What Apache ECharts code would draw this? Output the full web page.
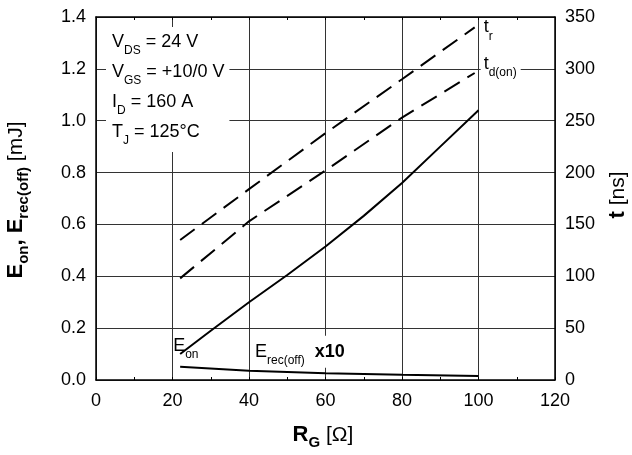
<!DOCTYPE html>
<html>
<head>
<meta charset="utf-8">
<script src="https://cdn.jsdelivr.net/npm/echarts@6/dist/echarts.min.js"></script>
<style>
  html, body { margin: 0; padding: 0; background: #fff; }
  #c { width: 632px; height: 455px; }
</style>
</head>
<body>
<div id="c"></div>
<script>
const FONT = '"Liberation Sans", Arial, Helvetica, sans-serif';

// Gate resistance R_G [Ω] and switching data
const rgEon   = [22, 30, 40, 50, 60, 70, 80, 90, 100];
const eOn     = [0.10, 0.19, 0.30, 0.405, 0.515, 0.633, 0.76, 0.90, 1.04];  // mJ
const rgErec  = [22, 40, 60, 80, 100];
const eRecOff = [0.051, 0.036, 0.026, 0.020, 0.015];                      // mJ (x10)
const rgTime  = [22, 40, 60, 80, 99];
const tRise   = [135, 184, 238, 290, 340];                                 // ns
const tdOn    = [98, 153, 202, 253, 296];                                  // ns

// Axis ranges
const xRange = { min: 0, max: 120, step: 20 };
const eRange = { min: 0, max: 1.4, step: 0.2 };
const tRange = { min: 0, max: 350, step: 50 };

const rich = {
  m:   { fontSize: 18, fontFamily: FONT, color: '#000', lineHeight: 30 },
  s:   { fontSize: 12, fontFamily: FONT, color: '#000', lineHeight: 14, verticalAlign: 'bottom' },
  b:   { fontSize: 18, fontFamily: FONT, color: '#000', fontWeight: 'bold', lineHeight: 30, padding: [0, 0, 0, 10] },
  tb:  { fontSize: 22, fontFamily: FONT, color: '#000', fontWeight: 'bold', lineHeight: 30 },
  tsb: { fontSize: 15, fontFamily: FONT, color: '#000', fontWeight: 'bold', lineHeight: 16, verticalAlign: 'bottom' },
  tr:  { fontSize: 21, fontFamily: FONT, color: '#000', lineHeight: 30 }
};

const pairs = (xs, ys) => xs.map((x, i) => [x, ys[i]]);
function withLabel(xs, ys, idx, label) {
  const d = pairs(xs, ys);
  d[idx] = { value: d[idx], label: Object.assign({ show: true, rich: rich }, label) };
  return d;
}

const lineBase = {
  type: 'line',
  showSymbol: true,
  symbol: 'circle',
  symbolSize: 0,
  silent: true,
  animation: false,
  label: { show: false },
  z: 5
};

const chart = echarts.init(document.getElementById('c'), null, { renderer: 'canvas' });

chart.setOption({
  animation: false,
  backgroundColor: '#fff',
  grid: { left: 96, right: 77, top: 17, bottom: 75, outerBoundsMode: 'none', containLabel: false },
  xAxis: [
    {
      type: 'value', position: 'bottom',
      min: xRange.min, max: xRange.max, interval: xRange.step,
      axisLine: { show: true, onZero: false, lineStyle: { color: '#000', width: 1.5 } },
      axisTick: { show: true, inside: true, length: 3, lineStyle: { color: '#000' } },
      minorTick: { show: true, splitNumber: 2, length: 3, lineStyle: { color: '#000' } },
      axisLabel: { color: '#000', fontSize: 18, fontFamily: FONT, margin: 12 },
      splitLine: { show: true, lineStyle: { color: '#333', width: 1 } }
    },
    {
      type: 'value', position: 'top',
      min: xRange.min, max: xRange.max, interval: xRange.step,
      axisLine: { show: true, onZero: false, lineStyle: { color: '#000', width: 1.5 } },
      axisTick: { show: true, inside: true, length: 3, lineStyle: { color: '#000' } },
      minorTick: { show: true, splitNumber: 2, length: 3, lineStyle: { color: '#000' } },
      axisLabel: { show: false },
      splitLine: { show: false }
    }
  ],
  yAxis: [
    {
      type: 'value', position: 'left',
      min: eRange.min, max: eRange.max, interval: eRange.step,
      axisLine: { show: true, onZero: false, lineStyle: { color: '#000', width: 1.5 } },
      axisTick: { show: false },
      axisLabel: { color: '#000', fontSize: 18, fontFamily: FONT, margin: 10,
                   formatter: v => v.toFixed(1) },
      splitLine: { show: true, lineStyle: { color: '#333', width: 1 } }
    },
    {
      type: 'value', position: 'right',
      min: tRange.min, max: tRange.max, interval: tRange.step,
      axisLine: { show: true, onZero: false, lineStyle: { color: '#000', width: 1.5 } },
      axisTick: { show: false },
      axisLabel: { color: '#000', fontSize: 18, fontFamily: FONT, margin: 10 },
      splitLine: { show: false }
    }
  ],
  series: [
    Object.assign({}, lineBase, {
      name: 'Eon', yAxisIndex: 0,
      lineStyle: { color: '#000', width: 2 },
      itemStyle: { color: '#000' },
      data: withLabel(rgEon, eOn, 0, {
        position: 'right', distance: 0, offset: [-7, -8],
        formatter: '{m|E}{s|on}'
      })
    }),
    Object.assign({}, lineBase, {
      name: 'Erec(off) x10', yAxisIndex: 0,
      lineStyle: { color: '#000', width: 2 },
      itemStyle: { color: '#000' },
      data: withLabel(rgErec, eRecOff, 1, {
        position: 'right', distance: 5, offset: [0, -19],
        backgroundColor: '#fff', padding: [1, 3, 1, 1],
        formatter: '{m|E}{s|rec(off)}{b|x10}'
      })
    }),
    Object.assign({}, lineBase, {
      name: 'tr', yAxisIndex: 1,
      lineStyle: { color: '#000', width: 2, type: [18, 9] },
      itemStyle: { color: '#000' },
      data: withLabel(rgTime, tRise, rgTime.length - 1, {
        position: 'right', distance: 9, offset: [0, 0],
        formatter: '{m|t}{s|r}'
      })
    }),
    Object.assign({}, lineBase, {
      name: 'td(on)', yAxisIndex: 1,
      lineStyle: { color: '#000', width: 2, type: [18, 9] },
      itemStyle: { color: '#000' },
      data: withLabel(rgTime, tdOn, rgTime.length - 1, {
        position: 'right', distance: 6, offset: [0, -9],
        backgroundColor: '#fff', padding: [0, 4, 0, 3],
        formatter: '{m|t}{s|d(on)}'
      })
    })
  ],
  graphic: [
    {
      type: 'text', left: 106, top: 27, z: 10,
      style: {
        text: '{m|V}{s|DS}{m| = 24 V}\n{m|V}{s|GS}{m| = +10/0 V}\n{m|I}{s|D}{m| = 160 A}\n{m|T}{s|J}{m| = 125°C}',
        rich: rich, backgroundColor: '#fff', padding: [0, 5, 5, 6]
      }
    },
    {
      type: 'text', x: 323, y: 435, z: 10,
      style: { text: '{tb|R}{tsb|G}{tr| [Ω]}', rich: rich, align: 'center', verticalAlign: 'middle' }
    },
    {
      type: 'text', x: 16, y: 200, rotation: Math.PI / 2, z: 10,
      style: { text: '{tb|E}{tsb|on}{tb|, E}{tsb|rec(off)}{tr| [mJ]}', rich: rich, align: 'center', verticalAlign: 'middle' }
    },
    {
      type: 'text', x: 618, y: 195, rotation: Math.PI / 2, z: 10,
      style: { text: '{tb|t}{tr| [ns]}', rich: rich, align: 'center', verticalAlign: 'middle' }
    }
  ]
});
</script>
</body>
</html>
